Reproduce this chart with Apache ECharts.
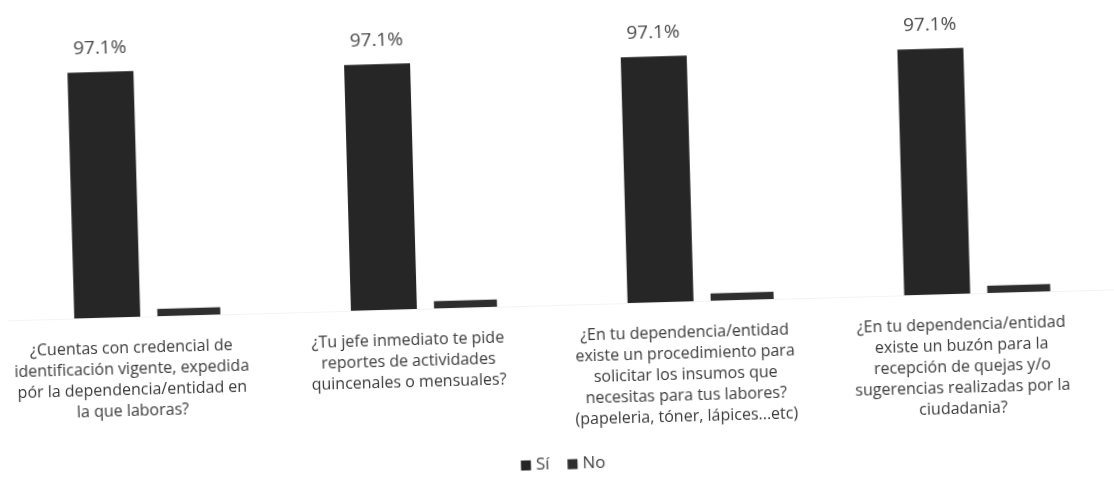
<!DOCTYPE html>
<html>
<head>
<meta charset="utf-8">
<script src="https://cdn.jsdelivr.net/npm/echarts@6/dist/echarts.min.js"></script>
<style>
  html, body { margin: 0; padding: 0; background: #ffffff; }
  #chart { width: 1114px; height: 479px; transform: rotate(-1.6deg); transform-origin: 557px 240px; }
</style>
</head>
<body>
<div id="chart"></div>
<script>
const categories = [
  "¿Cuentas con credencial de\nidentificación vigente, expedida\npór la dependencia/entidad en\nla que laboras?",
  "¿Tu jefe inmediato te pide\nreportes de actividades\nquincenales o mensuales?",
  "¿En tu dependencia/entidad\nexiste un procedimiento para\nsolicitar los insumos que\nnecesitas para tus labores?\n(papeleria, tóner, lápices...etc)",
  "¿En tu dependencia/entidad\nexiste un buzón para la\nrecepción de quejas y/o\nsugerencias realizadas por la\nciudadania?"
];
const seriesNames = ["Sí", "No"];
const siValues = [97.1, 97.1, 97.1, 97.1];
const noValues = [2.9, 2.9, 2.9, 2.9];

const chart = echarts.init(document.getElementById('chart'));
chart.setOption({
  backgroundColor: '#ffffff',
  animation: false,
  legend: {
    data: seriesNames,
    bottom: 1,
    left: 'center',
    itemWidth: 10,
    itemHeight: 10,
    itemGap: 18,
    icon: 'rect',
    textStyle: { fontFamily: 'Open Sans', fontSize: 17, color: '#444' }
  },
  grid: { left: 7, right: 0, top: 52, bottom: 174 },
  xAxis: {
    type: 'category',
    data: categories,
    axisTick: { show: false },
    axisLine: { show: true, lineStyle: { color: '#f3f3f3', width: 1 } },
    axisLabel: {
      interval: 0,
      margin: 21,
      lineHeight: 21,
      padding: [0, 34, 0, 0],
      fontFamily: 'Open Sans',
      fontSize: 16,
      color: '#3a3a3a'
    }
  },
  yAxis: {
    type: 'value',
    min: 0,
    max: 100,
    show: false,
    splitLine: { show: false }
  },
  series: [
    {
      name: seriesNames[0],
      type: 'bar',
      data: siValues,
      barWidth: 66,
      barGap: '26%',
      itemStyle: { color: '#262626' },
      label: {
        show: true,
        position: 'top',
        distance: 14,
        formatter: p => p.value.toFixed(1) + '%',
        fontFamily: 'Open Sans',
        fontSize: 19,
        color: '#4a4a4a'
      }
    },
    {
      name: seriesNames[1],
      type: 'bar',
      data: noValues,
      barWidth: 63,
      itemStyle: { color: '#2e2e2e' }
    }
  ]
});
</script>
</body>
</html>
